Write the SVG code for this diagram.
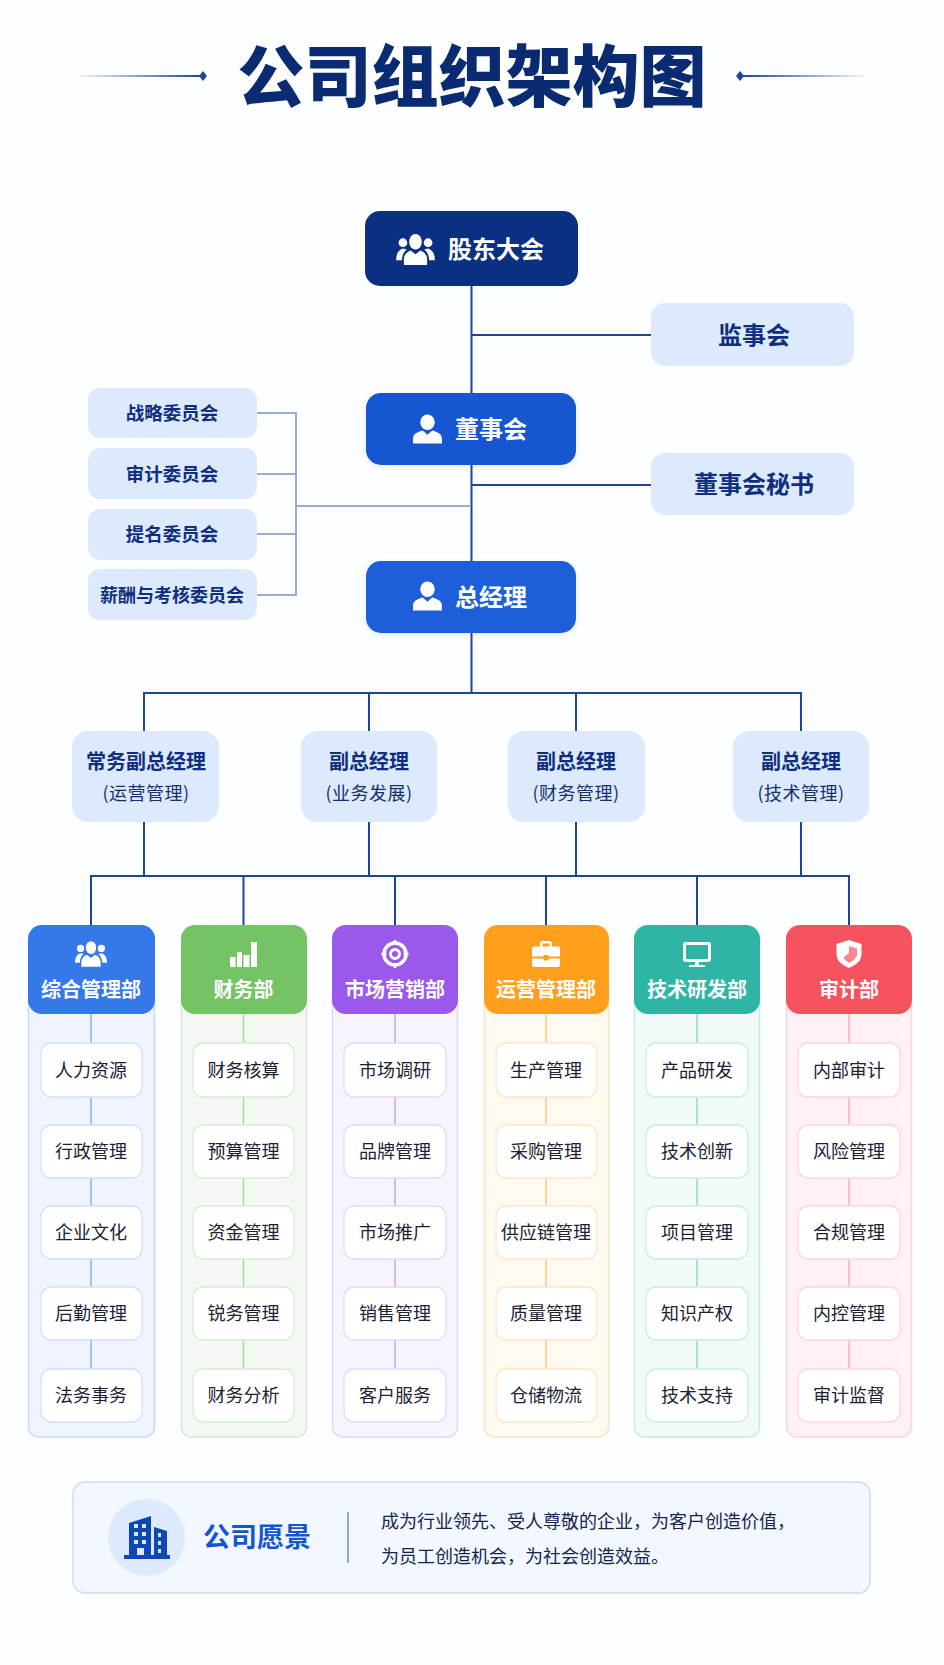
<svg xmlns="http://www.w3.org/2000/svg" width="944" height="1665" viewBox="0 0 944 1665">
<style>
text{font-family:"Noto Sans CJK SC","Noto Sans",sans-serif;text-anchor:middle}
.title{font-size:67px;font-weight:900;fill:#0a2a72}
.main{font-size:24px;font-weight:700;fill:#fff}
.side{font-size:24px;font-weight:700;fill:#0f2f7e}
.com{font-size:18.500px;font-weight:700;fill:#0f2f7e}
.vp{font-size:20px;font-weight:700;fill:#0f2f7e}
.sub{font-size:18px;font-weight:400;fill:#15306f;letter-spacing:.5px}
.dt{font-size:20px;font-weight:700;fill:#fff}
.it{font-size:18px;font-weight:400;fill:#1c2233}
.light{fill:#dde9fd}
.item{fill:#fff;stroke-width:1.300}
.conn{fill:none;stroke:#1f4595;stroke-width:2}
.conn2{fill:none;stroke:#9aacd4;stroke-width:2}
.ic{fill:#fff}
.blue .p{fill:#eff4fe;stroke:#c8daFb}.blue .l{stroke:#8fb0ee}.blue .item{stroke:#cfe0fc}
.green .p{fill:#f3f9f2;stroke:#d3ebcf}.green .l{stroke:#a9d6a0}.green .item{stroke:#d6eed2}
.purple .p{fill:#f7f4fe;stroke:#e2d5f9}.purple .l{stroke:#c5a8ec}.purple .item{stroke:#e6d9fa}
.orange .p{fill:#fff9f0;stroke:#fde2c0}.orange .l{stroke:#fbc98c}.orange .item{stroke:#fde5c8}
.teal .p{fill:#f2faf8;stroke:#c8ebe5}.teal .l{stroke:#96d6cb}.teal .item{stroke:#c8ece6}
.red .p{fill:#fff1f3;stroke:#fcd3d7}.red .l{stroke:#f8acb3}.red .item{stroke:#fcd5d9}
.p{stroke-width:1.500}.l{stroke-width:1.500;fill:none}
</style>
<defs>
<linearGradient id="fl" x1="0" x2="1" y1="0" y2="0"><stop offset="0" stop-color="#1f4595" stop-opacity="0"/><stop offset="1" stop-color="#1f4595"/></linearGradient>
<linearGradient id="fr" x1="0" x2="1" y1="0" y2="0"><stop offset="0" stop-color="#1f4595"/><stop offset="1" stop-color="#1f4595" stop-opacity="0"/></linearGradient>
<filter id="sh" x="-15%" y="-20%" width="130%" height="150%"><feDropShadow dx="0" dy="2" stdDeviation="3" flood-color="#1456d0" flood-opacity=".1"/></filter>
<symbol id="person" viewBox="0 0 30 30" overflow="visible"><ellipse cx="15" cy="8" rx="7.500" ry="8"/><path d="M0 30V25C0 20 5 18 10 16.500L15 21L20 16.500C25 18 30 20 30 25V30Z"/></symbol>
<symbol id="people" viewBox="0 0 40 32" overflow="visible"><ellipse cx="20" cy="8" rx="6.500" ry="8"/><path d="M8 32V26C8 21 12 18 15 17L20 21L25 17C28 18 32 21 32 26V32Z"/><circle cx="7" cy="9" r="4.500"/><circle cx="33" cy="9" r="4.500"/><path d="M0 27C0 20 3 16 7 15L11 16C8 18 6 22 6 27Z"/><path d="M40 27C40 20 37 16 33 15L29 16C32 18 34 22 34 27Z"/></symbol>
</defs>
<rect width="944" height="1665" fill="#fdfeff"/>
<g id="title">
<text class="title" x="472" y="101">公司组织架构图</text>
<rect x="73" y="75" width="128" height="2" fill="url(#fl)"/>
<path d="M203 71L207 76L203 81L199 76Z" fill="#1f4595"/>
<rect x="742" y="75" width="128" height="2" fill="url(#fr)"/>
<path d="M740 71L744 76L740 81L736 76Z" fill="#1f4595"/>
</g>
<g id="connectors">
<path class="conn" d="M471.500 286V561M471.500 633V693M471.500 335H652M471.500 485H652"/>
<path class="conn2" d="M257 413H296V595H257M257 474H296M257 534H296M296 506H471"/>
<path class="conn" d="M144 731V693H801V731M369 693V731M576 693V731M144 822V876M369 822V876M576 822V876M801 822V876M91 925V876H849V925M243.500 876V925M395 876V925M546 876V925M697 876V925"/>
</g>
<g id="node-shareholders"><rect x="365" y="211" width="213" height="75" rx="15" fill="#0b3082"/><use href="#people" x="396" y="234" width="39" height="31" class="ic"/><text class="main" x="496" y="258">股东大会</text></g>
<g id="node-supervisors"><rect class="light" x="651" y="303" width="203" height="63" rx="14"/><text class="side" x="754" y="344">监事会</text></g>
<g id="node-board"><rect x="366" y="393" width="210" height="72" rx="15" fill="#1456d0" filter="url(#sh)"/><use href="#person" x="413" y="414" width="29" height="30" class="ic"/><text class="main" x="491" y="438">董事会</text></g>
<g id="node-secretary"><rect class="light" x="651" y="453" width="203" height="62" rx="14"/><text class="side" x="754" y="493">董事会秘书</text></g>
<g id="node-gm"><rect x="366" y="561" width="210" height="72" rx="15" fill="#1c5fd8" filter="url(#sh)"/><use href="#person" x="413" y="581" width="29" height="30" class="ic"/><text class="main" x="491" y="606">总经理</text></g>
<g id="node-c1"><rect class="light" x="88" y="388" width="169" height="50" rx="12"/><text class="com" x="172" y="420">战略委员会</text></g>
<g id="node-c2"><rect class="light" x="88" y="448" width="169" height="51" rx="12"/><text class="com" x="172" y="481">审计委员会</text></g>
<g id="node-c3"><rect class="light" x="88" y="509" width="169" height="51" rx="12"/><text class="com" x="172" y="541">提名委员会</text></g>
<g id="node-c4"><rect class="light" x="88" y="569" width="169" height="51" rx="12"/><text class="com" x="172" y="602" style="font-size:18px">薪酬与考核委员会</text></g>
<g id="node-vp1"><rect class="light" x="72" y="731" width="147" height="91" rx="16"/><text class="vp" x="146" y="769">常务副总经理</text><text class="sub" x="146" y="800">(运营管理)</text></g>
<g id="node-vp2"><rect class="light" x="301" y="731" width="136" height="91" rx="16"/><text class="vp" x="369" y="769">副总经理</text><text class="sub" x="369" y="800">(业务发展)</text></g>
<g id="node-vp3"><rect class="light" x="508" y="731" width="137" height="91" rx="16"/><text class="vp" x="576" y="769">副总经理</text><text class="sub" x="576" y="800">(财务管理)</text></g>
<g id="node-vp4"><rect class="light" x="733" y="731" width="136" height="91" rx="16"/><text class="vp" x="801" y="769">副总经理</text><text class="sub" x="801" y="800">(技术管理)</text></g>

<g id="dept-admin" class="blue">
<rect class="p" x="28.500" y="990" width="126" height="447" rx="10"/>
<path class="l" d="M91 1014V1369"/>
<rect x="28" y="925" width="127" height="89" rx="14" fill="#3478ea"/>
<use href="#people" x="75" y="941" width="32" height="26" class="ic"/>
<text class="dt" x="91" y="997">综合管理部</text>
<rect class="item" x="41" y="1043" width="101" height="54" rx="10"/><text class="it" x="91" y="1077">人力资源</text>
<rect class="item" x="41" y="1125" width="101" height="53" rx="10"/><text class="it" x="91" y="1158">行政管理</text>
<rect class="item" x="41" y="1206" width="101" height="53" rx="10"/><text class="it" x="91" y="1239">企业文化</text>
<rect class="item" x="41" y="1287" width="101" height="53" rx="10"/><text class="it" x="91" y="1320">后勤管理</text>
<rect class="item" x="41" y="1369" width="101" height="53" rx="10"/><text class="it" x="91" y="1402">法务事务</text>
</g>
<g id="dept-finance" class="green">
<rect class="p" x="181.500" y="990" width="125" height="447" rx="10"/>
<path class="l" d="M243.500 1014V1369"/>
<rect x="181" y="925" width="126" height="89" rx="14" fill="#74c365"/>
<path class="ic" d="M230 957h5.500v10h-5.500zM237 952h5v15h-5zM243.500 955h6v12h-6zM251 942h6v25h-6z"/>
<text class="dt" x="243.500" y="997">财务部</text>
<rect class="item" x="193" y="1043" width="101" height="54" rx="10"/><text class="it" x="243.500" y="1077">财务核算</text>
<rect class="item" x="193" y="1125" width="101" height="53" rx="10"/><text class="it" x="243.500" y="1158">预算管理</text>
<rect class="item" x="193" y="1206" width="101" height="53" rx="10"/><text class="it" x="243.500" y="1239">资金管理</text>
<rect class="item" x="193" y="1287" width="101" height="53" rx="10"/><text class="it" x="243.500" y="1320">锐务管理</text>
<rect class="item" x="193" y="1369" width="101" height="53" rx="10"/><text class="it" x="243.500" y="1402">财务分析</text>
</g>
<g id="dept-marketing" class="purple">
<rect class="p" x="332.500" y="990" width="125" height="447" rx="10"/>
<path class="l" d="M395 1014V1369"/>
<rect x="332" y="925" width="126" height="89" rx="14" fill="#9b59ec"/>
<circle cx="395" cy="954" r="11" fill="none" stroke="#fff" stroke-width="3.500"/><circle cx="395" cy="954" r="4.500" fill="none" stroke="#fff" stroke-width="3"/>
<path d="M395 940v5M395 963v5M381.500 954h5M403.500 954h5" stroke="#fff" stroke-width="2.500"/>
<text class="dt" x="395" y="997">市场营销部</text>
<rect class="item" x="344" y="1043" width="102" height="54" rx="10"/><text class="it" x="395" y="1077">市场调研</text>
<rect class="item" x="344" y="1125" width="102" height="53" rx="10"/><text class="it" x="395" y="1158">品牌管理</text>
<rect class="item" x="344" y="1206" width="102" height="53" rx="10"/><text class="it" x="395" y="1239">市场推广</text>
<rect class="item" x="344" y="1287" width="102" height="53" rx="10"/><text class="it" x="395" y="1320">销售管理</text>
<rect class="item" x="344" y="1369" width="102" height="53" rx="10"/><text class="it" x="395" y="1402">客户服务</text>
</g>
<g id="dept-operations" class="orange">
<rect class="p" x="484.500" y="990" width="124" height="447" rx="10"/>
<path class="l" d="M546 1014V1369"/>
<rect x="484" y="925" width="125" height="89" rx="14" fill="#ff9f1c"/>
<path class="ic" fill-rule="evenodd" d="M540 946.500v-3a2.500 2.500 0 0 1 2.500-2.500h7a2.500 2.500 0 0 1 2.500 2.500v3h6a2 2 0 0 1 2 2v8h-11.500v-1.500h-5v1.500h-11.500v-8a2 2 0 0 1 2-2zM542.500 946.500h7v-3h-7z"/>
<path class="ic" d="M532 958.500h11.500v2h5v-2h11.500v6.500a2 2 0 0 1-2 2h-24a2 2 0 0 1-2-2z"/>
<text class="dt" x="546" y="997">运营管理部</text>
<rect class="item" x="496" y="1043" width="101" height="54" rx="10"/><text class="it" x="546" y="1077">生产管理</text>
<rect class="item" x="496" y="1125" width="101" height="53" rx="10"/><text class="it" x="546" y="1158">采购管理</text>
<rect class="item" x="496" y="1206" width="101" height="53" rx="10"/><text class="it" x="546" y="1239">供应链管理</text>
<rect class="item" x="496" y="1287" width="101" height="53" rx="10"/><text class="it" x="546" y="1320">质量管理</text>
<rect class="item" x="496" y="1369" width="101" height="53" rx="10"/><text class="it" x="546" y="1402">仓储物流</text>
</g>
<g id="dept-tech" class="teal">
<rect class="p" x="634.500" y="990" width="125" height="447" rx="10"/>
<path class="l" d="M697 1014V1369"/>
<rect x="634" y="925" width="126" height="89" rx="14" fill="#2fb5a5"/>
<rect x="684.500" y="943.500" width="25" height="17" rx="1.500" fill="none" stroke="#fff" stroke-width="3"/>
<path class="ic" d="M695 961h4v4h6v2h-16v-2h6z"/>
<text class="dt" x="697" y="997">技术研发部</text>
<rect class="item" x="646" y="1043" width="102" height="54" rx="10"/><text class="it" x="697" y="1077">产品研发</text>
<rect class="item" x="646" y="1125" width="102" height="53" rx="10"/><text class="it" x="697" y="1158">技术创新</text>
<rect class="item" x="646" y="1206" width="102" height="53" rx="10"/><text class="it" x="697" y="1239">项目管理</text>
<rect class="item" x="646" y="1287" width="102" height="53" rx="10"/><text class="it" x="697" y="1320">知识产权</text>
<rect class="item" x="646" y="1369" width="102" height="53" rx="10"/><text class="it" x="697" y="1402">技术支持</text>
</g>
<g id="dept-audit" class="red">
<rect class="p" x="786.500" y="990" width="125" height="447" rx="10"/>
<path class="l" d="M849 1014V1369"/>
<rect x="786" y="925" width="126" height="89" rx="14" fill="#f6525f"/>
<path class="ic" d="M849 940L861.500 944V954C861.500 961 856 965 849 968C842 965 836.500 961 836.500 954V944Z"/>
<path d="M849 946L857 948.500V954C857 958 853 961 849 963L843 958L849 953Z" fill="#f8878f"/>
<text class="dt" x="849" y="997">审计部</text>
<rect class="item" x="798" y="1043" width="102" height="54" rx="10"/><text class="it" x="849" y="1077">内部审计</text>
<rect class="item" x="798" y="1125" width="102" height="53" rx="10"/><text class="it" x="849" y="1158">风险管理</text>
<rect class="item" x="798" y="1206" width="102" height="53" rx="10"/><text class="it" x="849" y="1239">合规管理</text>
<rect class="item" x="798" y="1287" width="102" height="53" rx="10"/><text class="it" x="849" y="1320">内控管理</text>
<rect class="item" x="798" y="1369" width="102" height="53" rx="10"/><text class="it" x="849" y="1402">审计监督</text>
</g>
<g id="vision">
<rect x="73" y="1482" width="797" height="111" rx="12" fill="#f3f7ff" stroke="#cbdcfb" stroke-width="1.500"/>
<circle cx="146.500" cy="1537.500" r="38.500" fill="#dde9fd"/>
<path fill="#0f47b4" fill-rule="evenodd" d="M129 1555V1523L151 1516V1555ZM134 1524h4v4h-4zM142 1524h4v4h-4zM134 1532h4v4h-4zM142 1532h4v4h-4zM134 1540h4v4h-4zM142 1540h4v4h-4zM137 1548h7v7h-7z"/>
<path fill="#0f47b4" fill-rule="evenodd" d="M154 1527L167 1531V1555H154ZM158 1533h3v4h-3zM158 1541h3v4h-3zM158 1549h3v4h-3z"/>
<rect x="124" y="1555" width="46" height="4" fill="#0f47b4"/>
<text x="257" y="1547" style="font-size:27px;font-weight:700;fill:#1456d0">公司愿景</text>
<path d="M348 1512V1563" stroke="#6c8fd0" stroke-width="1.500"/>
<text x="381" y="1528" style="font-size:18px;fill:#15254f;text-anchor:start">成为行业领先、受人尊敬的企业&#xFF0C;为客户创造价值&#xFF0C;</text>
<text x="381" y="1563" style="font-size:18px;fill:#15254f;text-anchor:start">为员工创造机会&#xFF0C;为社会创造效益。</text>
</g>
</svg>
